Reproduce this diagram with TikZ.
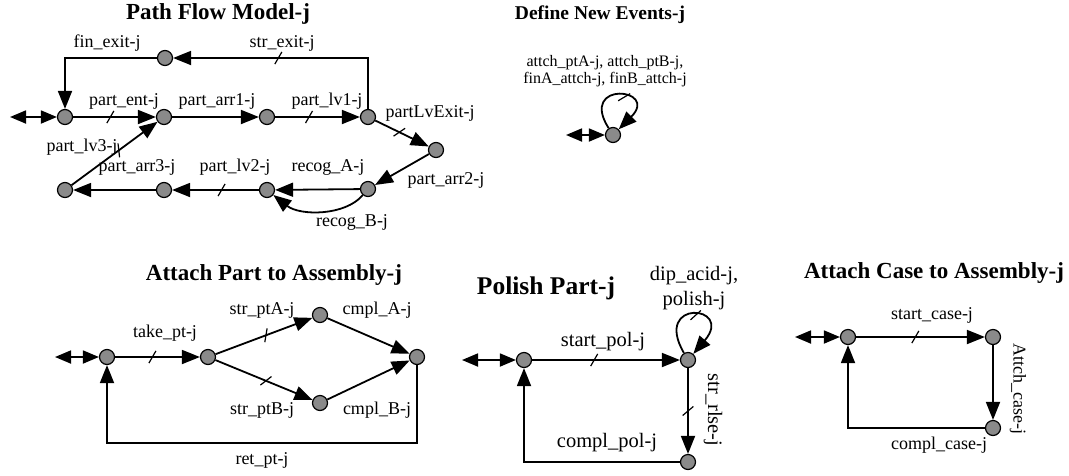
\documentclass[tikz,border=0pt]{standalone}
\usepackage{fontspec}
\setmainfont{Liberation Serif}
\usetikzlibrary{arrows.meta}
\definecolor{stategray}{RGB}{138,138,138}

\begin{document}
\begin{tikzpicture}[x=1pt,y=-1pt,
    st/.style={circle,draw,line width=1.2pt,fill=stategray,minimum size=15pt,inner sep=0pt},
    flow/.style={-{Triangle[length=18pt,width=14pt]},line width=1.8pt},
    dbl/.style={{Triangle[length=16pt,width=13pt]}-{Triangle[length=16pt,width=13pt]},line width=1.8pt},
    tick/.style={sloped,draw,line width=1.2pt,inner sep=0pt,minimum width=0pt,minimum height=14pt,rotate=-30,pos=0.43},
    lbl/.style={font=\fontsize{18}{20}\selectfont,inner sep=0pt},
    ttl/.style={font=\bfseries\fontsize{23}{26}\selectfont,inner sep=0pt}
  ]
    \useasboundingbox (0,0) rectangle (1069,475);

    % Path Flow Model
    \node[ttl] (t-pfm) at (218,14) {Path Flow Model-j};
    \coordinate (pf-in) at (10,117);
    \node[st] (pf0) at (65,117) {};
    \node[st] (pf1) at (164,117) {};
    \node[st] (pf2) at (267,117) {};
    \node[st] (pf3) at (368,117) {};
    \node[st] (pfx) at (165,58) {};
    \node[st] (pf4) at (436,150) {};
    \node[st] (pf5) at (368,189) {};
    \node[st] (pf6) at (267,190) {};
    \node[st] (pf7) at (164,190) {};
    \node[st] (pf8) at (65,190) {};
    \draw[dbl] (pf-in) -- (pf0);
    \draw[flow] (pf0) -- node[tick,pos=0.45]{} (pf1);
    \draw[flow] (pf1) -- (pf2);
    \draw[flow] (pf2) -- node[tick,pos=0.4]{} (pf3);
    \draw[flow] (pf3) |- node[tick,pos=0.73]{} (pfx);
    \draw[flow] (pfx) -| (pf0);
    \draw[flow] (pf3) -- node[tick,pos=0.45]{} (pf4);
    \draw[flow] (pf4) -- (pf5);
    \draw[flow] (pf5) -- (pf6);
    \draw[flow] (pf5) .. controls (345,216) and (300,216) .. (pf6);
    \draw[flow] (pf6) -- node[tick]{} (pf7);
    \draw[flow] (pf7) -- (pf8);
    \draw[flow] (pf8) -- node[tick,pos=0.55]{} (pf1);
    \node[lbl] (l-fin) at (107,43) {fin\_exit-j};
    \node[lbl] (l-strx) at (282,43) {str\_exit-j};
    \node[lbl] (l-ent) at (124,101) {part\_ent-j};
    \node[lbl] (l-arr1) at (217,101) {part\_arr1-j};
    \node[lbl] (l-lv1) at (327,101) {part\_lv1-j};
    \node[lbl] (l-lvx) at (430,113) {partLvExit-j};
    \node[lbl] (l-arr2) at (446,180) {part\_arr2-j};
    \node[lbl] (l-reca) at (328,167) {recog\_A-j};
    \node[lbl] (l-recb) at (352,222) {recog\_B-j};
    \node[lbl] (l-lv2) at (235,167) {part\_lv2-j};
    \node[lbl] (l-arr3) at (137,167) {part\_arr3-j};
    \node[lbl] (l-lv3) at (82,147) {part\_lv3-j};

    % Define New Events
    \node[ttl,font=\bfseries\fontsize{19.5}{22}\selectfont] (t-def) at (600,15) {Define New Events-j};
    \node[lbl,font=\fontsize{16}{17}\selectfont,align=center] (l-def) at (605,71)
      {attch\_ptA-j, attch\_ptB-j,\\finA\_attch-j, finB\_attch-j};
    \coordinate (df-in) at (566,135);
    \node[st] (df0) at (613,135) {};
    \draw[dbl] (df-in) -- (df0);
    \draw[flow] (df0) .. controls (578,80) and (660,88) .. node[tick,pos=0.6]{} (df0);

    % Attach Part to Assembly
    \node[ttl] (t-ap) at (274,275) {Attach Part to Assembly-j};
    \coordinate (ap-in) at (55,357);
    \node[st] (ap0) at (107,357) {};
    \node[st] (ap1) at (208,357) {};
    \node[st] (apa) at (320,315) {};
    \node[st] (apb) at (320,403) {};
    \node[st] (ap2) at (417,357) {};
    \coordinate (ap-ret) at (417,443);
    \draw[dbl] (ap-in) -- (ap0);
    \draw[flow] (ap0) -- node[tick,pos=0.44]{} (ap1);
    \draw[flow] (ap1) -- node[tick,pos=0.52]{} (apa);
    \draw[flow] (ap1) -- node[tick,pos=0.52]{} (apb);
    \draw[flow] (apa) -- (ap2);
    \draw[flow] (apb) -- (ap2);
    \draw[flow] (ap2) -- (ap-ret) -| (ap0);
    \node[lbl] (l-take) at (165,333) {take\_pt-j};
    \node[lbl] (l-stra) at (262,310) {str\_ptA-j};
    \node[lbl] (l-cmpa) at (377,310) {cmpl\_A-j};
    \node[lbl] (l-strb) at (262,410) {str\_ptB-j};
    \node[lbl] (l-cmpb) at (377,410) {cmpl\_B-j};
    \node[lbl] (l-ret) at (262,460) {ret\_pt-j};

    % Polish Part
    \node[ttl,font=\bfseries\fontsize{25.5}{28}\selectfont] (t-pp) at (546,288) {Polish Part-j};
    \coordinate (pp-in) at (462,360);
    \node[st] (pp0) at (524,360) {};
    \node[st] (pp1) at (688,360) {};
    \node[st] (pp2) at (688,462) {};
    \draw[dbl] (pp-in) -- (pp0);
    \draw[flow] (pp0) -- node[tick,pos=0.42]{} (pp1);
    \draw[flow] (pp1) .. controls (652,298) and (735,305) .. node[tick,pos=0.55]{} (pp1);
    \draw[flow] (pp1) -- node[tick,pos=0.5,rotate=70]{} (pp2);
    \draw[flow] (pp2) -| (pp0);
    \node[lbl,font=\fontsize{20.5}{25}\selectfont,align=center] (l-dip) at (694,288) {dip\_acid-j,\\polish-j};
    \node[lbl,font=\fontsize{20.5}{23}\selectfont] (l-spol) at (603,342) {start\_pol-j};
    \node[lbl,font=\fontsize{20.5}{23}\selectfont,rotate=-90] (l-rlse) at (713,410) {str\_rlse-j};
    \node[lbl,font=\fontsize{20.5}{23}\selectfont] (l-cpol) at (607,443) {compl\_pol-j};

    % Attach Case to Assembly
    \node[ttl] (t-ac) at (934,273) {Attach Case to Assembly-j};
    \coordinate (ac-in) at (795,337);
    \node[st] (ac0) at (848,337) {};
    \node[st] (ac1) at (993,337) {};
    \node[st] (ac2) at (993,428) {};
    \draw[dbl] (ac-in) -- (ac0);
    \draw[flow] (ac0) -- node[tick,pos=0.46]{} (ac1);
    \draw[flow] (ac1) -- (ac2);
    \draw[flow] (ac2) -| (ac0);
    \node[lbl] (l-scase) at (932,315) {start\_case-j};
    \node[lbl,rotate=-90] (l-acase) at (1018,389) {Attch\_case-j};
    \node[lbl] (l-ccase) at (939,445) {compl\_case-j};
\end{tikzpicture}
\end{document}
